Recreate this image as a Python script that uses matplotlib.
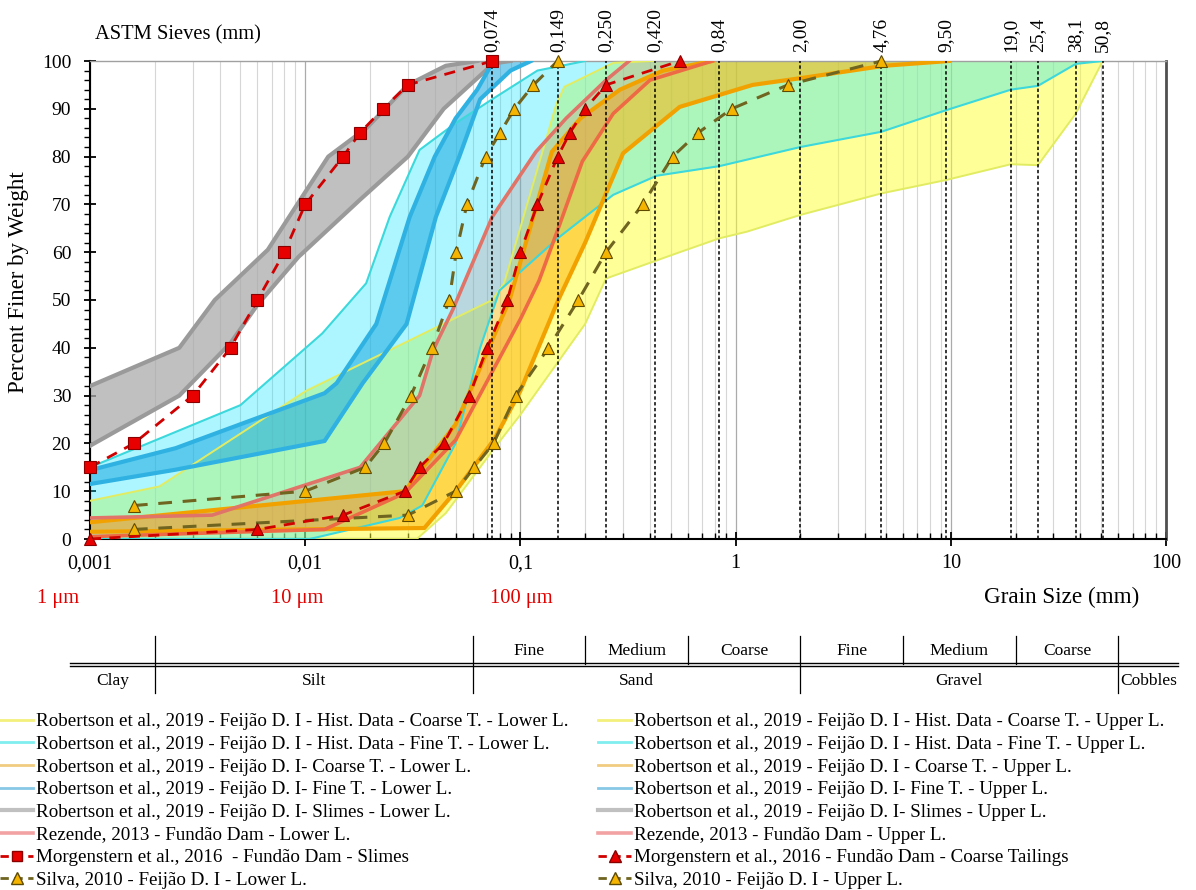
import numpy as np
import matplotlib.pyplot as plt
from matplotlib.lines import Line2D
from matplotlib.ticker import FixedLocator, FixedFormatter, LogLocator, NullFormatter, MultipleLocator

plt.rcParams['font.family'] = ['Liberation Serif', 'DejaVu Serif']

# ASTM sieve openings (mm)
sieves = [0.074, 0.149, 0.250, 0.420, 0.84, 2.00, 4.76, 9.50, 19.0, 25.4, 38.1, 50.8]
sieve_labels = ['0,074', '0,149', '0,250', '0,420', '0,84', '2,00', '4,76', '9,50',
                '19,0', '25,4', '38,1', '50,8']

x_ticks = [0.001, 0.01, 0.1, 1, 10, 100]
x_tick_labels = ['0,001', '0,01', '0,1', '1', '10', '100']

# Robertson et al., 2019 - historical data, coarse tailings
hcoarse_low_d = [0.001, 0.033, 0.045, 0.0757, 0.1, 0.2, 0.25, 0.55, 0.84, 1.13, 2.0, 4.76, 9.5, 19.0, 25.4, 38.1, 50.8]
hcoarse_low_p = [0, 0, 5.4, 19, 26, 45, 54.5, 60, 62.9, 64.3, 67.8, 72.3, 75.1, 78.4, 78.2, 89, 100]
hcoarse_up_d = [0.001, 0.0021, 0.0101, 0.074, 0.084, 0.147, 0.16, 0.27, 0.42]
hcoarse_up_p = [8, 11, 31, 50, 53.5, 91, 94.6, 99.6, 100]

# Robertson et al., 2019 - historical data, fine tailings
hfine_low_d = [0.001, 0.0105, 0.0275, 0.035, 0.05, 0.065, 0.08, 0.15, 0.27, 0.43, 0.84, 2.0, 4.76, 9.5, 19.0, 25.4, 38.1, 50.8]
hfine_low_p = [0, 0, 4.4, 7, 20, 40, 52, 63, 72, 76, 78, 82, 85.2, 89.7, 94, 94.8, 99.4, 100]
hfine_up_d = [0.001, 0.005, 0.012, 0.0192, 0.0247, 0.034, 0.05, 0.074, 0.12, 0.2]
hfine_up_p = [15, 28, 43, 53.5, 67.4, 81.4, 87, 92, 98, 100]

# Robertson et al., 2019 - coarse tailings
coarse_low_d = [0.001, 0.0358, 0.05, 0.076, 0.1, 0.15, 0.2, 0.3, 0.55, 1.2, 2.0, 4.9, 9.8]
coarse_low_p = [1.5, 2.3, 10, 21, 31, 50, 62, 80.7, 90.4, 95, 96.4, 99, 100]
coarse_up_d = [0.001, 0.029, 0.05, 0.089, 0.14, 0.19, 0.29, 0.46, 0.78]
coarse_up_p = [3.5, 10, 24, 50, 81, 88, 94, 98, 100]

# Robertson et al., 2019 - fine tailings
fine_low_d = [0.001, 0.0025, 0.0123, 0.0185, 0.0296, 0.0405, 0.052, 0.065, 0.09, 0.112]
fine_low_p = [11.5, 14.5, 20.5, 32.6, 45, 67.4, 80, 92, 98, 100]
fine_up_d = [0.001, 0.0025, 0.0123, 0.014, 0.0214, 0.0306, 0.04, 0.05, 0.063, 0.075]
fine_up_p = [14.4, 19, 30.5, 32.6, 45, 67.4, 80, 88, 94, 100]

# Robertson et al., 2019 - slimes
slimes_low_d = [0.001, 0.0026, 0.0045, 0.006, 0.0093, 0.018, 0.03, 0.044, 0.075, 0.09]
slimes_low_p = [19.5, 30, 41, 49, 59, 71, 80, 90, 99.5, 100]
slimes_up_d = [0.001, 0.0026, 0.0038, 0.0067, 0.0128, 0.0193, 0.03, 0.045, 0.063]
slimes_up_p = [32, 40, 50, 60.5, 80, 86, 95, 99, 100]

# Rezende, 2013 - Fundão Dam
rez_low_d = [0.001, 0.0123, 0.029, 0.05, 0.1, 0.122, 0.15, 0.194, 0.27, 0.4, 0.78]
rez_low_p = [0.5, 2, 9.6, 20.7, 46, 54, 65, 79, 89, 96, 100]
rez_up_d = [0.001, 0.0037, 0.018, 0.034, 0.0393, 0.0484, 0.074, 0.118, 0.163, 0.25, 0.32]
rez_up_p = [4.4, 5, 15, 30, 39.5, 47.9, 67.4, 81, 88, 96, 100]

# Morgenstern et al., 2016
morg_slimes_d = [0.001, 0.0016, 0.003, 0.0045, 0.006, 0.008, 0.01, 0.015, 0.018, 0.023, 0.03, 0.074]
morg_slimes_p = [15, 20, 30, 40, 50, 60, 70, 80, 85, 90, 95, 100]
morg_coarse_d = [0.001, 0.006, 0.015, 0.029, 0.034, 0.044, 0.058, 0.07, 0.087, 0.1, 0.12, 0.149, 0.17, 0.2, 0.25, 0.55]
morg_coarse_p = [0, 2, 5, 10, 15, 20, 30, 40, 50, 60, 70, 80, 85, 90, 95, 100]

# Silva, 2010 - Feijão D. I
silva_low_d = [0.0016, 0.03, 0.05, 0.061, 0.075, 0.095, 0.135, 0.186, 0.25, 0.37, 0.51, 0.67, 0.96, 1.75, 4.76]
silva_low_p = [2, 5, 10, 15, 20, 30, 40, 50, 60, 70, 80, 85, 90, 95, 100]
silva_up_d = [0.0016, 0.01, 0.019, 0.0233, 0.031, 0.0388, 0.0467, 0.0503, 0.0564, 0.0689, 0.0805, 0.0938, 0.115, 0.149]
silva_up_p = [7, 10, 15, 20, 30, 40, 50, 60, 70, 80, 85, 90, 95, 100]

# classification (British standard limits, mm)
class_bounds = [0.002, 0.06, 2, 60]
class_sub = [0.2, 0.6, 6, 20]

W, H = 1196, 890
fig = plt.figure(figsize=(W / 100, H / 100), dpi=100)
ax = fig.add_axes([90 / W, 1 - 539 / H, (1166 - 90) / W, (539 - 61) / H])


def band(d_low, p_low, d_up, p_up, fill, line, lw, falpha, line_low=None):
    xs = list(d_low) + list(d_up)[::-1]
    ys = list(p_low) + list(p_up)[::-1]
    ax.fill(xs, ys, color=fill, alpha=falpha, lw=0, zorder=2)
    ax.plot(d_low, p_low, color=line_low or line, lw=lw, zorder=3, solid_joinstyle='round')
    ax.plot(d_up, p_up, color=line, lw=lw, zorder=3, solid_joinstyle='round')


band(slimes_low_d, slimes_low_p, slimes_up_d, slimes_up_p, '#ababab', '#9a9a9a', 3.0, 0.75)
band(hcoarse_low_d, hcoarse_low_p, hcoarse_up_d, hcoarse_up_p, '#ffff33', '#e2ec62', 1.4, 0.5)
band(hfine_low_d, hfine_low_p, hfine_up_d, hfine_up_p, '#14e6ff', '#3cd8dc', 1.5, 0.35)
band(coarse_low_d, coarse_low_p, coarse_up_d, coarse_up_p, '#ffb000', '#f2a200', 3.0, 0.5)
band(fine_low_d, fine_low_p, fine_up_d, fine_up_p, '#1aa8e0', '#2fb2e2', 3.0, 0.55)
band(rez_low_d, rez_low_p, rez_up_d, rez_up_p, '#e06a6a', '#e07468', 2.6, 0.22,
     line_low='#ee6a44')

# sieve openings
ax.vlines(sieves, 0, 100, colors='black', linestyles=(0, (2.2, 1.6)), lw=1.1, zorder=4)
for s, lab in zip(sieves, sieve_labels):
    ax.text(s, 101.8, lab, rotation=90, ha='center', va='bottom', fontsize=14)

red_dash = dict(color='#d10000', lw=2.0, dashes=(4, 3), zorder=6, clip_on=False,
                mfc='#e80000', mec='#8a0000', mew=0.8)
olive_dash = dict(color='#6f6420', lw=2.2, dashes=(4.5, 3.5), zorder=5, clip_on=False,
                  marker='^', ms=9, mfc='#f5b400', mec='#5e4a00', mew=0.8)
ax.plot(silva_up_d, silva_up_p, **olive_dash)
ax.plot(silva_low_d, silva_low_p, **olive_dash)
ax.plot(morg_slimes_d, morg_slimes_p, marker='s', ms=8.5, **red_dash)
ax.plot(morg_coarse_d, morg_coarse_p, marker='^', ms=9, **red_dash)

ax.set_xscale('log')
ax.set_xlim(0.001, 100)
ax.set_ylim(0, 100)
ax.xaxis.set_major_locator(FixedLocator(x_ticks))
ax.xaxis.set_major_formatter(FixedFormatter(x_tick_labels))
ax.xaxis.set_minor_locator(LogLocator(base=10, subs=np.arange(2, 10)))
ax.xaxis.set_minor_formatter(NullFormatter())
ax.yaxis.set_major_locator(MultipleLocator(10))
ax.yaxis.set_minor_locator(MultipleLocator(2))
ax.tick_params(axis='x', which='major', direction='inout', length=10, width=1.3,
               labelsize=14.5, pad=6)
ax.tick_params(axis='x', which='minor', direction='in', length=4, width=1)
ax.tick_params(axis='y', which='major', direction='inout', length=9, width=1.3,
               labelsize=14, pad=9)
ax.tick_params(axis='y', which='minor', direction='out', length=4, width=1)
ax.grid(True, which='major', axis='x', color='#ababab', lw=0.9)
ax.grid(True, which='minor', axis='x', color='#d6d6d6', lw=0.8)
ax.set_axisbelow(True)
ax.spines['top'].set_color('#a0a0a0')
ax.spines['top'].set_linewidth(1.0)
ax.spines['right'].set_color('#505050')
ax.spines['right'].set_linewidth(2.0)
for side in ('left', 'bottom'):
    ax.spines[side].set_linewidth(1.5)
ax.set_ylabel('Percent Finer by Weight', fontsize=16.5)
ax.yaxis.set_label_coords(-0.057, 0.538)

fig.text(95 / W, 1 - 35 / H, 'ASTM Sieves (mm)', fontsize=14.8, va='center', ha='left')
fig.text(1062 / W, 1 - 597 / H, 'Grain Size (mm)', fontsize=16.7, va='center', ha='center')
for xp, lab in [(58, '1 μm'), (297, '10 μm'), (521, '100 μm')]:
    fig.text(xp / W, 1 - 598 / H, lab, fontsize=14.8, color='#e00000', ha='center', va='center')

# soil classification strip
tab = fig.add_axes([90 / W, 1 - 700 / H, (1166 - 90) / W, 70 / H])
tab.set_xscale('log')
tab.set_xlim(0.001, 100)
tab.set_ylim(0, 1)
tab.axis('off')


def ty(px):
    return (700 - px) / 70


x_left, x_right = 0.00081, 114
for yy in (663, 665.8):
    tab.plot([x_left, x_right], [ty(yy)] * 2, color='black', lw=1.0, clip_on=False)
for b in class_bounds:
    tab.plot([b, b], [ty(636), ty(693)], color='black', lw=0.9, clip_on=False)
for b in class_sub:
    tab.plot([b, b], [ty(636), ty(664)], color='black', lw=0.9, clip_on=False)

sub_names = ['Fine', 'Medium', 'Coarse']
for edges in ([0.06, 0.2, 0.6, 2], [2, 6, 20, 60]):
    for i, name in enumerate(sub_names):
        xc = np.sqrt(edges[i] * edges[i + 1])
        tab.text(xc, ty(651), name, ha='center', va='center', fontsize=12.5)
main_names = ['Clay', 'Silt', 'Sand', 'Gravel', 'Cobbles']
main_edges = [x_left] + class_bounds + [x_right]
for i, name in enumerate(main_names):
    xc = np.sqrt(main_edges[i] * main_edges[i + 1])
    tab.text(xc, ty(681), name, ha='center', va='center', fontsize=12.5)

# legend handles
def lh(color, lw=2.0):
    return Line2D([], [], color=color, lw=lw)


lower_handles = [lh('#f4f07c'), lh('#80eeee'), lh('#f0cc80'), lh('#86c8e6'),
                 lh('#c0c0c0', 3.0), lh('#f2a2a2', 2.6),
                 Line2D([], [], color='#d10000', lw=2, dashes=(3, 2), marker='s', ms=7,
                        mfc='#e80000', mec='#8a0000'),
                 Line2D([], [], color='#6f6420', lw=2, dashes=(3, 2), marker='^', ms=8,
                        mfc='#f5b400', mec='#5e4a00')]
lower_labels = [
    'Robertson et al., 2019 - Feijão D. I - Hist. Data - Coarse T. - Lower L.',
    'Robertson et al., 2019 - Feijão D. I - Hist. Data - Fine T. - Lower L.',
    'Robertson et al., 2019 - Feijão D. I- Coarse T. - Lower L.',
    'Robertson et al., 2019 - Feijão D. I- Fine T. - Lower L.',
    'Robertson et al., 2019 - Feijão D. I- Slimes - Lower L.',
    'Rezende, 2013 - Fundão Dam - Lower L.',
    'Morgenstern et al., 2016  - Fundão Dam - Slimes',
    'Silva, 2010 - Feijão D. I - Lower L.',
]
upper_handles = [lh('#f4f07c'), lh('#80eeee'), lh('#f0cc80'), lh('#86c8e6'),
                 lh('#c0c0c0', 3.0), lh('#f2a2a2', 2.6),
                 Line2D([], [], color='#d10000', lw=2, dashes=(3, 2), marker='^', ms=8,
                        mfc='#e80000', mec='#8a0000'),
                 Line2D([], [], color='#6f6420', lw=2, dashes=(3, 2), marker='^', ms=8,
                        mfc='#f5b400', mec='#5e4a00')]
upper_labels = [
    'Robertson et al., 2019 - Feijão D. I - Hist. Data - Coarse T. - Upper L.',
    'Robertson et al., 2019 - Feijão D. I - Hist. Data - Fine T. - Upper L.',
    'Robertson et al., 2019 - Feijão D. I - Coarse T. - Upper L.',
    'Robertson et al., 2019 - Feijão D. I- Fine T. - Upper L.',
    'Robertson et al., 2019 - Feijão D. I- Slimes - Upper L.',
    'Rezende, 2013 - Fundão Dam - Upper L.',
    'Morgenstern et al., 2016 - Fundão Dam - Coarse Tailings',
    'Silva, 2010 - Feijão D. I - Upper L.',
]
leg_kw = dict(loc='upper left', frameon=False, fontsize=13.7, handlelength=1.75,
              handletextpad=0.15, labelspacing=0.28, borderpad=0, borderaxespad=0)
fig.legend(lower_handles, lower_labels, bbox_to_anchor=(0 / W, 1 - 713 / H), **leg_kw)
fig.legend(upper_handles, upper_labels, bbox_to_anchor=(598 / W, 1 - 713 / H), **leg_kw)

fig.savefig('out.png', dpi=100)
